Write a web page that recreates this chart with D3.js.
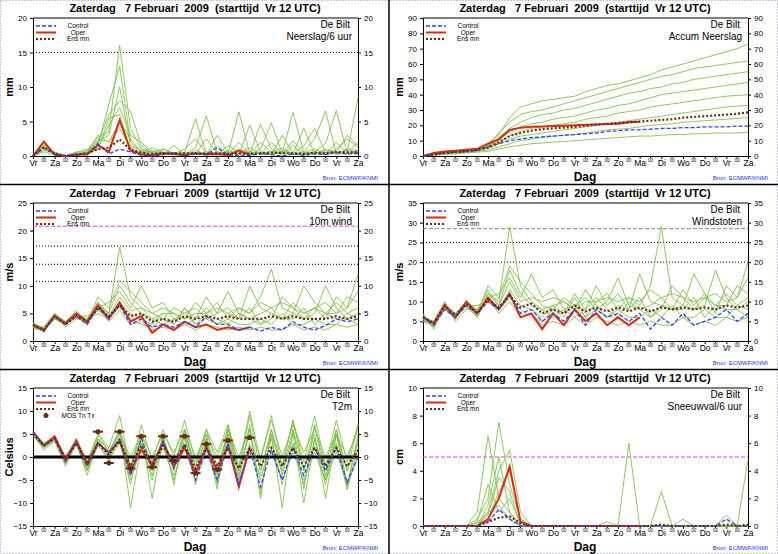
<!DOCTYPE html>
<html><head><meta charset="utf-8">
<script src="https://cdn.jsdelivr.net/npm/d3@7"></script>
<style>body{margin:0;background:#fff}svg{display:block;font-family:"Liberation Sans",Arial,sans-serif}text{white-space:pre}</style>
</head><body><svg id="chart" width="778" height="554"></svg>
<script>
// 12-hourly steps from Vr 12 UTC, 31 points
var dayLabels = ["Vr","Za","Zo","Ma","Di","Wo","Do","Vr","Za","Zo","Ma","Di","Wo","Do","Vr","Za"];
var titleText = "Zaterdag   7 Februari  2009  (starttijd  Vr 12 UTC)";

// Neerslag/6 uur
var rainMembers = [
 [0,1.5,0.5,0,0.3,0.8,2.8,3.5,16,4,1,0.5,0.3,0.2,0.5,5.4,0.3,1.5,0.2,2,0.3,1,4.8,0.4,6.3,0.5,1,0.3,2,0.5,8.5],
 [0,1.8,0.2,0,0.5,1,1.5,7.5,13,2,0.6,0.2,1,0.4,0.2,1.2,5.8,0.5,0.3,6.4,0.4,2,0.5,1.2,0.3,0.6,2.5,6.5,0.4,1,0.8],
 [0,1,0.4,0,0.2,0.5,2,6,8,6.5,1.5,0.3,0.2,1.5,0.3,0.5,0.2,3,0.5,0.2,4.5,0.6,0.2,3,0.4,4,0.3,1,0.5,3,1.5],
 [0,0.8,0.6,0,0.1,0.6,3,2,5,2.5,0.5,1.2,0.5,0.3,1,2.5,0.4,0.2,1.5,0.5,0.3,4.6,1,0.2,1.5,0.2,0.6,1.8,6.6,0.4,2],
 [0,2,0.3,0,0.4,0.2,1.2,4.5,7,3,2,0.4,0.3,0.2,0.5,0.3,2.5,0.4,0.2,1,0.5,0.3,2,0.4,0.3,1.5,4,0.5,0.3,0.8,0.5],
 [0,1.2,0.5,0,0.2,0.3,2.2,3,10,1.5,0.8,0.6,1,0.4,0.2,0.8,0.3,0.6,0.4,0.3,1.2,0.4,0.6,0.3,2.2,0.5,0.4,0.3,1,2.5,1.2],
 [0,0.6,0.2,0,0.3,0.4,1,5.5,6,0.8,0.4,0.2,0.6,0.3,0.2,0.4,0.3,0.2,0.8,0.3,0.2,0.5,0.3,0.6,0.2,0.4,0.3,0.8,0.2,0.5,0.3],
 [0,1.6,0.3,0,0.6,0.5,2.5,2,4,1.2,0.4,0.8,0.2,0.5,0.3,0.2,0.6,0.3,0.4,0.2,0.6,0.3,0.2,0.8,0.4,0.3,0.6,0.2,0.5,0.3,0.6]];
var rainControl = [0,1.2,0.2,0,0.1,0.3,1.8,0.3,1.0,0.6,0.1,0,0.2,0.5,0.1,0.3,0.2,1.2,0.2,0,0.1,0.3,0.2,0,0.3,0.1,0.3,0.2,0.5,0.3,0.4];
var rainOper = [0,2.1,0.2,0,0.2,0.2,1.6,0.6,5.2,0.8,0.2,0.1,0.4,0.3,0.1,0.4,0.2,0.3,0.1,0.8,0.2];
var rainMean = [0,1.3,0.3,0,0.2,0.4,1.0,1.2,2.4,0.9,0.5,0.3,0.4,0.3,0.4,0.4,0.3,0.4,0.3,0.4,0.3,0.4,0.5,0.4,0.4,0.3,0.5,0.4,0.6,0.5,0.6];

// Accum Neerslag
var accMembers = [
 [0,1,2,3,3.5,5,8,14,25,32,34,36,37,38,39,42,44,46,47,49,51,53,56,58,60,62,64,66,68,70,73],
 [0,1.5,2.5,3,4,5,7,15,22,27,29,30,32,34,36,38,40,42,44,46,48,50,52,53,55,57,58,59,60,61,62],
 [0,1,2,2.5,3,4,6,12,18,22,25,27,28,30,31,33,35,37,39,41,42,44,45,47,48,50,51,52,53,54,55],
 [0,0.8,1.8,2.5,3,4,7,10,16,19,21,22,24,25,26,28,30,31,33,34,36,38,40,41,42,43,44,45,46,47,48],
 [0,1.2,2,3,3.5,4.5,6,9,13,16,18,19,20,21,22,24,25,26,28,29,30,32,33,34,35,36,37,38,39,39.5,40],
 [0,1,2,2.5,3,4,5,8,11,13,14,15,16,17,18,19,20,21,22,23,24,25,26,27,28,29,30,31,32,32.5,33],
 [0,0.8,1.5,2,2.5,3,4,6,8,10,11,12,13,13.5,14,15,16,17,17.5,18,19,20,20.5,21,22,22.5,23,23.5,24,24.5,25],
 [0,0.6,1,1.5,2,2.5,3,4.5,6,7,8,8.5,9,9.5,10,10.5,11,11.5,12,12.5,13,13,13.5,14,14,14.5,14.5,15,15,15,15.5]];
var accControl = [0,1.2,2,2.5,3,3.5,6,8,10,11,12,12.5,13,13.5,14,14.5,15,16,16.5,17,17,17.5,18,18,18.5,18.5,19,19,19,19.5,19.5];
var accOper = [0,2,3,3.5,4,4.5,8,11,17,18.5,19,19.2,19.5,19.8,20,20.3,20.5,20.8,21,22,22.3];
var accMean = [0,1,2,2.5,3,4,5.5,9,13,15,16.5,17.5,18,18.5,19,19.8,20.5,21,21.5,22,22.5,23,23.5,24,25,25.5,26,26.5,27,27.5,28.5];

// 10m wind
var windMembers = [
 [3,2.5,5,3.5,5,4,7,5,17,8,6,4,5,3,6,4,8,5,6,4,10,6,5,4,7,5,6,4,8,6,12],
 [2.5,2,4,3,4.5,3.5,8,6,11,9,7,5,4,6,5,3,5,7,4,6,5,8,13,6,5,4,6,5,7,5,6],
 [3.5,1.5,4.5,3.5,5.5,3,6,7,9,6,10,6,7,4,5,6,4,5,9,5,4,5,6,4,5,10,7,5,5,8,7],
 [2,2.5,5,2.5,4,4,5,4,7,5,4,3,5,5,4,7,5,3,5,4,6,3,4,8,6,4,5,10,6,4,5],
 [3,2,4,3,4.5,3,6.5,5,10,7,5,4,3,4,3,4,6,4,3,5,4,3,5,4,4,6,3,5,4,4,3],
 [2.5,1.8,4.5,3.5,4.5,4.5,5.5,4.5,6,4,3,2.5,4,3,6,3,4,3,4,3,3,4,3,5,3,3,4,3,3,5,4],
 [3.2,2.2,4.2,2.8,5,3.8,7,4.5,8,5.5,6,5,6,5,4,5,5,6,5,6,5,7,6,7,6,5,6,7,5,6,9],
 [2.8,1.6,4.8,3.2,4.2,3.2,6.2,3.5,5.5,3,3.5,2,2.5,2,3,2,3,2.5,2,2.5,2,2.5,2,2,3,2,2.5,2,3,2.5,3]];
var windControl = [3,1.8,4.5,3,4.5,3,6,4,6.5,3,4,2.5,3,2.5,3.5,2.5,4.5,3,3,2,2.5,1.8,2.5,2,3.5,2.5,2,2.8,4,3.5,4];
var windOper = [2.8,2,4.5,3.2,5,3.5,6.5,4,7,3.5,4.5,1.5,3,2,3.5,2.5,3,2,2.5,2,2.5];
var windMean = [3,2,4.5,3,4.5,3.5,6,4.5,6.5,4.5,5,3.5,4,3.5,4.5,4,4.5,4,4.5,4,4,4,4.5,4,4.5,4,4,4,4.5,4,4.5];

// Windstoten
var gustMembers = [
 [6,5,9,7,10,8,12,10,29,14,10,8,9,7,12,8,14,9,12,8,17,10,9,8,13,9,12,7,14,11,20],
 [5,4,8,6,9,7,14,11,19,15,12,9,8,11,9,6,10,12,8,11,9,14,29,11,9,8,11,9,12,9,11],
 [7,3,9,7,10,6,11,12,16,11,17,11,13,8,9,11,8,10,16,9,8,9,11,8,9,17,12,9,9,14,12],
 [5,5,10,5,8,8,10,8,13,9,8,6,9,10,8,13,9,6,9,8,11,6,8,14,11,8,9,18,11,8,10],
 [6,4,8,6,9,6,12,9,18,12,9,8,6,8,6,8,11,8,6,10,8,6,9,8,8,11,6,9,8,8,6],
 [5,4,9,7,9,9,10,8,11,8,6,5,8,6,11,6,8,6,8,6,6,8,6,9,6,6,8,6,6,9,8],
 [6.5,4.5,8.5,5.5,10,7.5,13,9,15,10,11,10,11,10,8,10,10,11,10,11,10,13,11,12,11,10,11,12,10,11,16],
 [5.5,3.5,9.5,6.5,8.5,6.5,11,7,10,6,7,4,5,4,6,4,6,5,4,5,4,5,4,4,6,4,5,4,6,5,6]];
var gustControl = [6,4,8,6,9,7,10,8,12,7,8,5,7,5,8,4,8,6,7,5,7,3,6,4,7,4,5,6,8,5,7];
var gustOper = [6,4.5,9,6,10,7,11,8,12,6,7,3,7,4,8,5,7,4,6,4,6];
var gustMean = [6,4.5,9,6.5,9.5,7,10.5,8.5,11.5,8.5,9.5,7,8,7,9,7.5,8.5,7.5,8.5,7.5,8.5,7.5,8.5,8,8.5,8,8.5,8,9,8.5,9];

// T2m
var tempMembers = [
 [5.5,3,4.5,0,4,-1,5,2,9,-3,7,-1,6,0,8,-1,6,1,7,-2,10,-1,9,-2,8,-1,9,-2,8,-1,7],
 [5,2,4,-1,3,-3,4,0,6,-11,3,-5,5,-6,6,-4,5,-6,7,-4,6,-8,5,-11,6,-7,7,-5,6,-6,4],
 [5.5,2.5,4,-0.5,3.5,-2,3,1,4,-6,5,-9,4,-3,5,-6,4,-3,5,-5,7,-9,6,-4,5,-10,4,-6,5,-7,5],
 [4.5,2,3.5,-2,3,-4,3.5,-1,5,-2,4,-3,4,-2,5,-2,4,-7,6,-3,5,-3,5,-3,6,-3,5,-9,5,-3,3],
 [5,3,4,0,3,-1,4,1.5,5,0,5,0,5,1,6,0,5,0,6,0,6,0,8,0,7,1,6,0,5,0,6],
 [5,1.5,3.5,-1.5,3,-2.5,3.5,0,4,-4,3,-3,3,-5,4,-4,3,-4,4,-6,3,-5,4,-6,3,-6,4,-4,3,-7,2],
 [5.5,2.5,4.5,-1,4,-2,5,1,6,-2,5,-2,4,-2,6,-2,6,-2,5,-3,9,-3,6,-2,8,-3,7,-3,6,-3,7],
 [4.8,2.2,3.8,-1.2,2.8,-3,2.5,-0.5,3,-5,2,-4,2,-4,2,-5,1,-5,2,-5,1,-4,1,-5,1,-5,1,-5,1,-6,0]];
var tempControl = [5.5,2.5,4,-1,3.5,-2,3,1,4,-4,4,-2.5,3.5,-2.5,3,-5,2,-5,3,-6,2,-6.5,1.5,-5,2,-4,2,-3,2,-5.5,0];
var tempOper = [5.5,2.5,4.5,-0.5,3.5,-1.5,3,1,3.5,-3,1.5,-1.5,3,-2,2,-3.5,2,-3,2.5,-6.5,2];
var tempMean = [5,2.5,4,-0.5,3,-1.5,3,0.5,3.5,-2,2.5,-2,2.5,-1,2.5,-2.5,2,-2,2,-2.5,2,-2,2,-2,2,-2,2,-2,2,-2,1.5];
var mosStep = [6,7,8,9,10,11,12,13,14,15,16,17,18,20];
var mosValue = [5.5,-1.3,5.5,-2.5,4.5,-2.2,4.5,-0.8,4.5,-3.5,2.8,-2.7,3.6,4.2];

// Sneeuwval/6 uur
var snowMembers = [
 [0,0,0,0,0,0.5,2,7.5,3,0.5,0,0,0,0,0,0,0,0.3,0,0,0,0,0,0,0,0,0,0,0,0,0],
 [0,0,0,0,0,1,6.5,2,1,0,0,0,0,0,0,0,0,0,0,6,0,0,0,0,0,0,0,0,0,0,0],
 [0,0,0,0,0,0,1,4,5.5,1,0,0,0,0,0,0,0,0,0,0,0,0,0,0,0.5,0,0,0,0,0,4.8],
 [0,0,0,0,0,0.3,3,1,2,0.2,0,0,0,0,0,0,0,0,0,0,0,0,0,0,0,0,0,0,0.8,0,0],
 [0,0,0,0,0,0,1.5,5,1,0,0,0,0,0,0,0,0,0,0,0,0,0,2.5,0,0,0,0,0,0,0,0],
 [0,0,0,0,0,0,0.5,2.5,4,0.5,0,0,0,0,0,0,0,0,0,0,0,0,0,0,0,0,0,0,0,0,0],
 [0,0,0,0,0,0.2,1,1.5,0.5,0,0,0,0,0,0,0,0,0,0,0,0,0,0,0,0,0,0,0,0,0,0],
 [0,0,0,0,0,0,0.8,3.5,2.5,0,0,0,0,0,0,0,0,0,0,0,0,0,0,0,0,0,0,0,0,0,0]];
var snowControl = [0,0,0,0,0,0,0.3,1.2,0.5,0,0,0,0,0,0,0,0,0,0,0,0,0,0,0,0,0,0,0,0.5,0,0];
var snowOper = [0,0,0,0,0,0,0.5,2,4.3,0.3,0,0,0,0,0,0,0,0,0,0,0];
var snowMean = [0,0,0,0,0,0,0.3,0.6,0.7,0.2,0,0,0,0,0,0,0,0,0,0,0,0,0.1,0,0,0,0,0,0.1,0,0.1];

var panels = [
 {ox:0,oy:0,ymax:20,ymin:0,step:5,unit:"mm",name:"Neerslag/6 uur",m:rainMembers,c:rainControl,o:rainOper,e:rainMean,dotted:[15],magenta:[]},
 {ox:390,oy:0,ymax:90,ymin:0,step:10,unit:"mm",name:"Accum Neerslag",m:accMembers,c:accControl,o:accOper,e:accMean,dotted:[],magenta:[]},
 {ox:0,oy:185,ymax:25,ymin:0,step:5,unit:"m/s",name:"10m wind",m:windMembers,c:windControl,o:windOper,e:windMean,dotted:[10.8,13.9,17.2],magenta:[20.8]},
 {ox:390,oy:185,ymax:35,ymin:0,step:5,unit:"m/s",name:"Windstoten",m:gustMembers,c:gustControl,o:gustOper,e:gustMean,dotted:[20,25],magenta:[],grey:[28.5]},
 {ox:0,oy:370,ymax:15,ymin:-15,step:5,unit:"Celsius",name:"T2m",m:tempMembers,c:tempControl,o:tempOper,e:tempMean,dotted:[],magenta:[],zero:true,mos:true},
 {ox:390,oy:370,ymax:10,ymin:0,step:2,unit:"cm",name:"Sneeuwval/6 uur",m:snowMembers,c:snowControl,o:snowOper,e:snowMean,dotted:[],magenta:[5]}
];

var svg = d3.select("#chart");
svg.append("rect").attr("x",0.5).attr("y",0.5).attr("width",777).attr("height",553).attr("fill","#fff").attr("stroke","#8888cc").attr("stroke-dasharray","1,2");
svg.append("line").attr("x1",389).attr("x2",389).attr("y1",0).attr("y2",554).attr("stroke","#000").attr("stroke-width",1.5);
[184.5,369.5].forEach(function(y){
  svg.append("line").attr("x1",0).attr("x2",778).attr("y1",y).attr("y2",y).attr("stroke","#000").attr("stroke-width",1.5);
});

panels.forEach(function(p){
  var g = svg.append("g").attr("transform","translate("+p.ox+","+p.oy+")");
  var L=33, R=358, T=18, B=156;
  var x = d3.scaleLinear().domain([0,30]).range([L,R]);
  var y = d3.scaleLinear().domain([p.ymin,p.ymax]).range([B,T]);
  var ticks = d3.range(p.ymin,p.ymax+0.001,p.step);

  g.append("text").attr("x",195).attr("y",12).attr("text-anchor","middle").attr("font-size",11).attr("font-weight","bold").text(titleText);

  // y axes
  var la = g.append("g").attr("transform","translate("+L+",0)").call(d3.axisLeft(y).tickValues(ticks).tickSize(3).tickFormat(d3.format("d")));
  var ra = g.append("g").attr("transform","translate("+R+",0)").call(d3.axisRight(y).tickValues(ticks).tickSize(3).tickFormat(d3.format("d")));
  [la,ra].forEach(function(a){a.selectAll("text").attr("font-size",8).attr("font-family","Liberation Sans");a.select(".domain").attr("stroke","#000");});
  g.append("line").attr("x1",L).attr("x2",R).attr("y1",T).attr("y2",T).attr("stroke","#000");

  // x axis
  var xa = g.append("g").attr("transform","translate(0,"+B+")").call(d3.axisBottom(x).tickValues(d3.range(0,31,2)).tickSize(3).tickPadding(1).tickFormat(function(d){return dayLabels[d/2];}));
  xa.selectAll("text").attr("font-size",8.5).attr("font-family","Liberation Sans");
  g.selectAll(".h00").data(d3.range(1,30,2)).enter().append("text").attr("x",function(d){return x(d);}).attr("y",B+6).attr("text-anchor","middle").attr("font-size",4.5).text("00");
  g.selectAll(".t00").data(d3.range(1,30,2)).enter().append("line").attr("x1",function(d){return x(d);}).attr("x2",function(d){return x(d);}).attr("y1",B).attr("y2",B+2).attr("stroke","#000");

  g.append("text").attr("x",195).attr("y",181).attr("text-anchor","middle").attr("font-size",12).attr("font-weight","bold").text("Dag");
  g.append("text").attr("x",378).attr("y",180).attr("text-anchor","end").attr("font-size",6).attr("fill","#2233ee").text("Bron: ECMWF/KNMI");
  g.append("text").attr("transform","translate(13,"+((T+B)/2)+") rotate(-90)").attr("text-anchor","middle").attr("font-size",11).attr("font-weight","bold").text(p.unit);

  // reference lines
  p.dotted.forEach(function(v){g.append("line").attr("x1",L).attr("x2",R).attr("y1",y(v)).attr("y2",y(v)).attr("stroke","#000").attr("stroke-dasharray","1,2");});
  (p.grey||[]).forEach(function(v){g.append("line").attr("x1",L).attr("x2",R).attr("y1",y(v)).attr("y2",y(v)).attr("stroke","#888").attr("stroke-dasharray","4,2");});
  p.magenta.forEach(function(v){g.append("line").attr("x1",L).attr("x2",R).attr("y1",y(v)).attr("y2",y(v)).attr("stroke","#e040e0").attr("stroke-dasharray","4,2");});

  var line = d3.line().x(function(d,i){return x(i);}).y(function(d){return y(d);});
  p.m.forEach(function(s){g.append("path").attr("d",line(s)).attr("fill","none").attr("stroke","#7cbd45").attr("stroke-width",1).attr("opacity",0.85);});
  if(p.zero) g.append("line").attr("x1",L).attr("x2",R).attr("y1",y(0)).attr("y2",y(0)).attr("stroke","#000").attr("stroke-width",3);
  g.append("path").attr("d",line(p.o)).attr("fill","none").attr("stroke","#e02a10").attr("stroke-width",2);
  g.append("path").attr("d",line(p.c)).attr("fill","none").attr("stroke","#3040ff").attr("stroke-width",1.3).attr("stroke-dasharray","4,2");
  g.append("path").attr("d",line(p.e)).attr("fill","none").attr("stroke","#6b2a10").attr("stroke-width",2.2).attr("stroke-dasharray","2,2");

  if(p.mos){
    mosStep.forEach(function(s,i){
      g.append("line").attr("x1",x(s)-5).attr("x2",x(s)+5).attr("y1",y(mosValue[i])).attr("y2",y(mosValue[i])).attr("stroke","#6b2a10").attr("stroke-width",2);
      g.append("circle").attr("cx",x(s)).attr("cy",y(mosValue[i])).attr("r",2.5).attr("fill","#6b2a10");
    });
  }

  // legend
  var leg = [["Control","#3040ff","4,2",1.3],["Oper","#e02a10",null,2],["Ens mn","#6b2a10","2,2",2.2]];
  leg.forEach(function(l,i){
    var ly = 26+i*6.5;
    g.append("line").attr("x1",36).attr("x2",56).attr("y1",ly).attr("y2",ly).attr("stroke",l[1]).attr("stroke-width",l[3]).attr("stroke-dasharray",l[2]);
    g.append("text").attr("x",78).attr("y",ly+2).attr("text-anchor","middle").attr("font-size",6.5).text(l[0]);
  });
  if(p.mos){
    g.append("circle").attr("cx",46).attr("cy",45.5).attr("r",2.5).attr("fill","#6b2a10");
    g.append("text").attr("x",78).attr("y",47.5).attr("text-anchor","middle").attr("font-size",6.5).text("MOS Tn Tx");
  }
  g.append("text").attr("x",350).attr("y",28).attr("text-anchor","end").attr("font-size",10).text("De Bilt");
  g.append("text").attr("x",352).attr("y",40).attr("text-anchor","end").attr("font-size",10).text(p.name);
});
</script></body></html>
